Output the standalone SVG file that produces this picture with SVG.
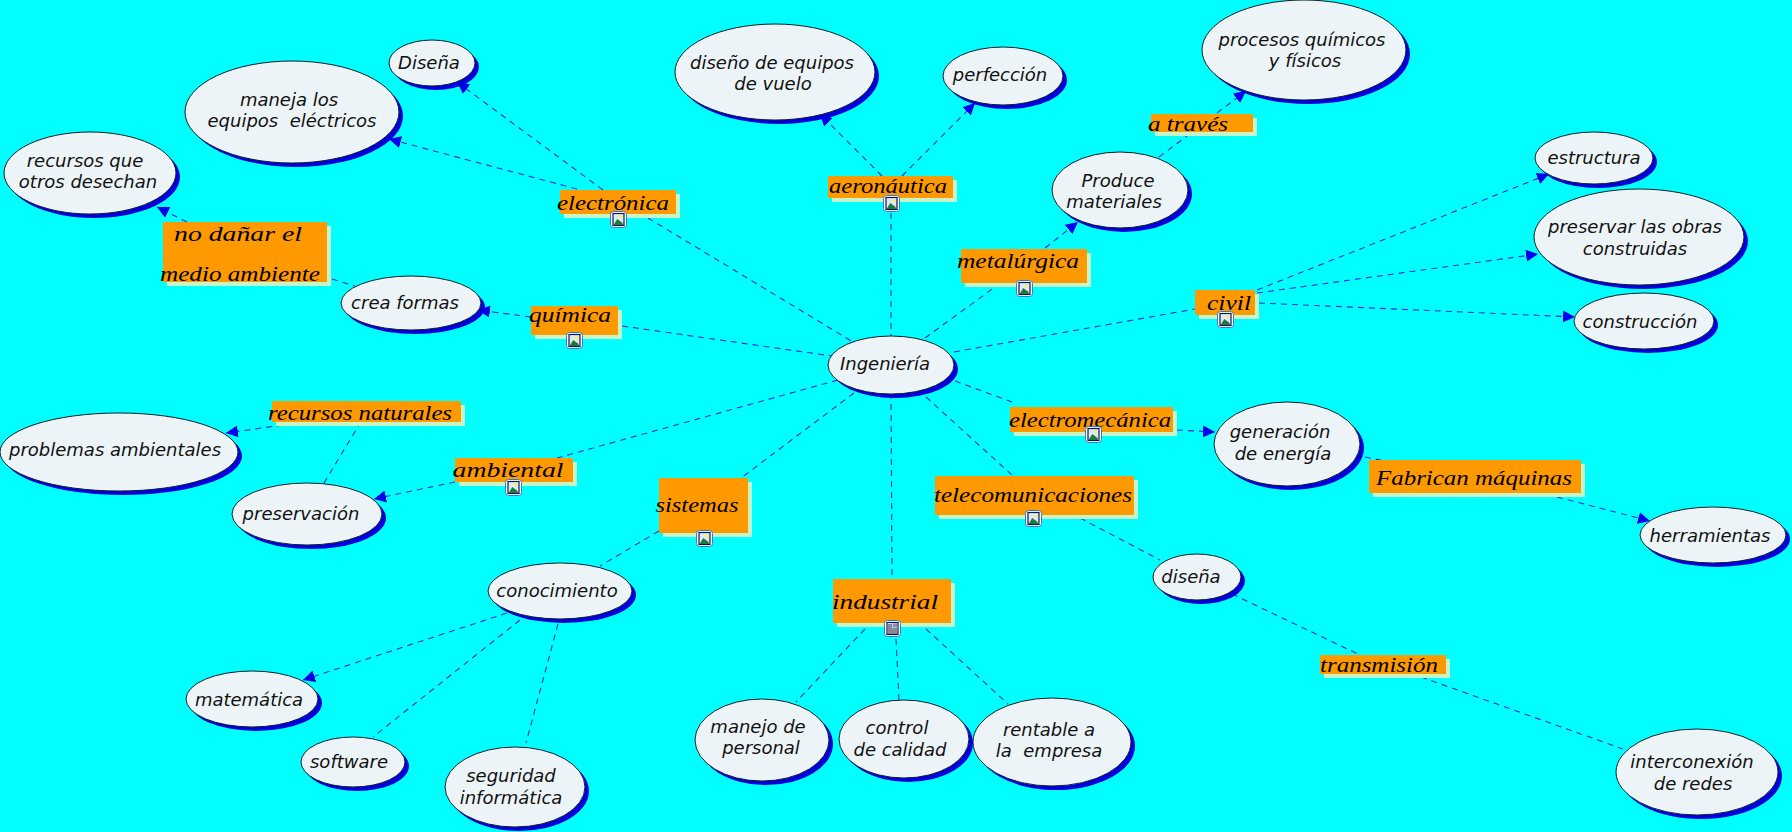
<svg xmlns="http://www.w3.org/2000/svg" width="1792" height="832" viewBox="0 0 1792 832">
<style>
.sh{fill:#0000dd}
.el{fill:#edf4f7;stroke:#10202a;stroke-width:1}
.t{font:italic 18px "DejaVu Sans",Verdana,sans-serif;fill:#111;text-anchor:middle;white-space:pre}
.s{font:italic 22px "Liberation Serif",serif;fill:#000;text-anchor:middle;white-space:pre}
.ls{fill:#c8f5c8}
.lb{fill:#ff9900}
.c{fill:none;stroke:#2a2ad8;stroke-width:1.1;stroke-dasharray:6 5}
.a{marker-end:url(#ah)}
</style>
<defs>
<marker id="ah" markerUnits="userSpaceOnUse" markerWidth="13" markerHeight="12" refX="12" refY="6" orient="auto"><path d="M0 0L12 6L0 12Z" fill="#0000ee"/></marker>
<symbol id="pic" viewBox="0 0 17 17" overflow="visible"><rect x=".5" y=".5" width="16" height="16" rx="3" fill="#fff" stroke="#3a78d0"/><rect x="3" y="2.5" width="11" height="12" fill="#dce9fa" stroke="#0a1a50" stroke-width="1.2"/><circle cx="10.5" cy="5.5" r="1.7" fill="#ffef60"/><path d="M3.6 13.9L7.2 8L12 11.5L13.4 13.9Z" fill="#1f7a3a"/></symbol>
<symbol id="doc" viewBox="0 0 17 17" overflow="visible"><rect x=".5" y=".5" width="16" height="16" rx="3" fill="#fff" stroke="#3a78d0"/><rect x="3" y="2.5" width="11" height="12" fill="#fafae8" stroke="#0a1a50" stroke-width="1.2"/><rect x="8.5" y="3.5" width="4.5" height="4" fill="#7f90c8"/><path d="M4 5H8M4 7H8M4 9H13M4 11H13M4 13H13" stroke="#0a1a50" fill="none"/></symbol>
</defs>
<rect width="1792" height="832" fill="#00ffff"/>
<g id="connectors">
<path class="c" d="M648 218L853 342"/>
<path class="c a" d="M603 190L457 82"/>
<path class="c a" d="M577 189L389 139"/>
<path class="c" d="M891 213V336"/>
<path class="c a" d="M882 176L820 114"/>
<path class="c a" d="M902 176L975 103"/>
<path class="c" d="M925 338L995 287"/>
<path class="c a" d="M1045 248L1078 222"/>
<path class="c" d="M1159 157L1187 136"/>
<path class="c a" d="M1217 113L1246 91"/>
<path class="c" d="M954 352L1195 309"/>
<path class="c a" d="M1257 290L1549 174"/>
<path class="c a" d="M1257 293L1538 254"/>
<path class="c a" d="M1259 303L1575 317"/>
<path class="c" d="M955 381L1012 402"/>
<path class="c a" d="M1177 430L1215 432"/>
<path class="c" d="M1365 457L1385 461"/>
<path class="c a" d="M1557 497L1650 521"/>
<path class="c" d="M926 397L1012 475"/>
<path class="c" d="M1080 518L1160 560"/>
<path class="c" d="M1232 594L1360 655"/>
<path class="c" d="M1421 677L1623 749"/>
<path class="c" d="M891 393L892 579"/>
<path class="c" d="M865 629L796 702"/>
<path class="c" d="M896 639L899 700"/>
<path class="c" d="M926 629L1008 704"/>
<path class="c" d="M854 393L741 478"/>
<path class="c" d="M659 531L600 566"/>
<path class="c a" d="M507 613L303 680"/>
<path class="c" d="M520 620L373 737"/>
<path class="c" d="M558 624L526 743"/>
<path class="c" d="M838 380L557 458"/>
<path class="c a" d="M455 482L374 499"/>
<path class="c" d="M324 483L359 425"/>
<path class="c a" d="M283 425L226 433"/>
<path class="c" d="M622 326L832 356"/>
<path class="c a" d="M531 317L478 310"/>
<path class="c" d="M332 279L355 286"/>
<path class="c a" d="M187 222L157 207"/>
</g>
<g id="n-ingenieria"><ellipse class="sh" cx="895" cy="369" rx="63" ry="29"/><ellipse class="el" cx="891" cy="365" rx="63" ry="29"/><text class="t" x="885" y="370">Ingeniería</text></g>
<g id="n-disena1"><ellipse class="sh" cx="436" cy="67" rx="43" ry="23"/><ellipse class="el" cx="432" cy="63" rx="43" ry="23"/><text class="t" x="429" y="69">Diseña</text></g>
<g id="n-maneja"><ellipse class="sh" cx="296" cy="116" rx="107" ry="51"/><ellipse class="el" cx="292" cy="112" rx="107" ry="51"/><text class="t" x="289" y="106">maneja los</text><text class="t" x="292" y="127">equipos  eléctricos</text></g>
<g id="n-recursos"><ellipse class="sh" cx="94" cy="177" rx="86" ry="41"/><ellipse class="el" cx="90" cy="173" rx="86" ry="41"/><text class="t" x="85" y="167">recursos que</text><text class="t" x="88" y="188">otros desechan</text></g>
<g id="n-crea"><ellipse class="sh" cx="415" cy="307" rx="70" ry="27"/><ellipse class="el" cx="411" cy="303" rx="70" ry="27"/><text class="t" x="405" y="309">crea formas</text></g>
<g id="n-diseno"><ellipse class="sh" cx="779" cy="76" rx="100" ry="48"/><ellipse class="el" cx="775" cy="72" rx="100" ry="48"/><text class="t" x="772" y="69">diseño de equipos</text><text class="t" x="773" y="90">de vuelo</text></g>
<g id="n-perfeccion"><ellipse class="sh" cx="1007" cy="80" rx="60" ry="29"/><ellipse class="el" cx="1003" cy="76" rx="60" ry="29"/><text class="t" x="1000" y="81">perfección</text></g>
<g id="n-procesos"><ellipse class="sh" cx="1308" cy="54" rx="102" ry="50"/><ellipse class="el" cx="1304" cy="50" rx="102" ry="50"/><text class="t" x="1302" y="46">procesos químicos</text><text class="t" x="1305" y="67">y físicos</text></g>
<g id="n-produce"><ellipse class="sh" cx="1124" cy="194" rx="68" ry="38"/><ellipse class="el" cx="1120" cy="190" rx="68" ry="38"/><text class="t" x="1118" y="187">Produce</text><text class="t" x="1114" y="208">materiales</text></g>
<g id="n-estructura"><ellipse class="sh" cx="1598" cy="162" rx="59" ry="26"/><ellipse class="el" cx="1594" cy="158" rx="59" ry="26"/><text class="t" x="1594" y="164">estructura</text></g>
<g id="n-preservar"><ellipse class="sh" cx="1643" cy="241" rx="105" ry="48"/><ellipse class="el" cx="1639" cy="237" rx="105" ry="48"/><text class="t" x="1635" y="233">preservar las obras</text><text class="t" x="1635" y="255">construidas</text></g>
<g id="n-construccion"><ellipse class="sh" cx="1648" cy="325" rx="70" ry="28"/><ellipse class="el" cx="1644" cy="321" rx="70" ry="28"/><text class="t" x="1640" y="328">construcción</text></g>
<g id="n-generacion"><ellipse class="sh" cx="1291" cy="448" rx="73" ry="42"/><ellipse class="el" cx="1287" cy="444" rx="73" ry="42"/><text class="t" x="1280" y="438">generación</text><text class="t" x="1283" y="460">de energía</text></g>
<g id="n-herramientas"><ellipse class="sh" cx="1717" cy="539" rx="73" ry="28"/><ellipse class="el" cx="1713" cy="535" rx="73" ry="28"/><text class="t" x="1710" y="542">herramientas</text></g>
<g id="n-disena2"><ellipse class="sh" cx="1201" cy="581" rx="44" ry="23"/><ellipse class="el" cx="1197" cy="577" rx="44" ry="23"/><text class="t" x="1191" y="583">diseña</text></g>
<g id="n-interconexion"><ellipse class="sh" cx="1701" cy="776" rx="81" ry="43"/><ellipse class="el" cx="1697" cy="772" rx="81" ry="43"/><text class="t" x="1692" y="768">interconexión</text><text class="t" x="1693" y="790">de redes</text></g>
<g id="n-rentable"><ellipse class="sh" cx="1056" cy="746" rx="79" ry="44"/><ellipse class="el" cx="1052" cy="742" rx="79" ry="44"/><text class="t" x="1049" y="736">rentable a</text><text class="t" x="1049" y="757">la  empresa</text></g>
<g id="n-control"><ellipse class="sh" cx="908" cy="743" rx="65" ry="39"/><ellipse class="el" cx="904" cy="739" rx="65" ry="39"/><text class="t" x="897" y="734">control</text><text class="t" x="900" y="756">de calidad</text></g>
<g id="n-manejo"><ellipse class="sh" cx="766" cy="744" rx="67" ry="41"/><ellipse class="el" cx="762" cy="740" rx="67" ry="41"/><text class="t" x="758" y="733">manejo de</text><text class="t" x="761" y="754">personal</text></g>
<g id="n-seguridad"><ellipse class="sh" cx="519" cy="791" rx="70" ry="40"/><ellipse class="el" cx="515" cy="787" rx="70" ry="40"/><text class="t" x="511" y="782">seguridad</text><text class="t" x="511" y="804">informática</text></g>
<g id="n-software"><ellipse class="sh" cx="357" cy="766" rx="52" ry="25"/><ellipse class="el" cx="353" cy="762" rx="52" ry="25"/><text class="t" x="349" y="768">software</text></g>
<g id="n-matematica"><ellipse class="sh" cx="256" cy="703" rx="66" ry="28"/><ellipse class="el" cx="252" cy="699" rx="66" ry="28"/><text class="t" x="249" y="706">matemática</text></g>
<g id="n-conocimiento"><ellipse class="sh" cx="564" cy="595" rx="72" ry="28"/><ellipse class="el" cx="560" cy="591" rx="72" ry="28"/><text class="t" x="557" y="597">conocimiento</text></g>
<g id="n-preservacion"><ellipse class="sh" cx="311" cy="518" rx="75" ry="31"/><ellipse class="el" cx="307" cy="514" rx="75" ry="31"/><text class="t" x="301" y="520">preservación</text></g>
<g id="n-problemas"><ellipse class="sh" cx="123" cy="456" rx="119" ry="39"/><ellipse class="el" cx="119" cy="452" rx="119" ry="39"/><text class="t" x="115" y="456">problemas ambientales</text></g>
<g id="l-electronica"><rect class="ls" x="564" y="194" width="116" height="24"/><rect class="lb" x="560" y="190" width="116" height="24"/><text class="s" x="613" y="210" textLength="112" lengthAdjust="spacingAndGlyphs">electrónica</text><use href="#pic" x="610" y="211" width="17" height="17"/></g>
<g id="l-aeronautica"><rect class="ls" x="832" y="180" width="125" height="22"/><rect class="lb" x="828" y="176" width="125" height="22"/><text class="s" x="888" y="193" textLength="118" lengthAdjust="spacingAndGlyphs">aeronáutica</text><use href="#pic" x="883" y="195" width="17" height="17"/></g>
<g id="l-quimica"><rect class="ls" x="535" y="310" width="87" height="29"/><rect class="lb" x="531" y="306" width="87" height="29"/><text class="s" x="570" y="322" textLength="82" lengthAdjust="spacingAndGlyphs">química</text><use href="#pic" x="566" y="332" width="17" height="17"/></g>
<g id="l-nodanar"><rect class="ls" x="167" y="226" width="164" height="60"/><rect class="lb" x="163" y="222" width="164" height="60"/><text class="s" x="238" y="241" textLength="128" lengthAdjust="spacingAndGlyphs">no dañar el</text><text class="s" x="240" y="281" textLength="160" lengthAdjust="spacingAndGlyphs">medio ambiente</text></g>
<g id="l-metalurgica"><rect class="ls" x="965" y="253" width="126" height="34"/><rect class="lb" x="961" y="249" width="126" height="34"/><text class="s" x="1018" y="268" textLength="122" lengthAdjust="spacingAndGlyphs">metalúrgica</text><use href="#pic" x="1016" y="280" width="17" height="17"/></g>
<g id="l-atraves"><rect class="ls" x="1155" y="118" width="102" height="18"/><rect class="lb" x="1151" y="114" width="102" height="18"/><text class="s" x="1188" y="131" textLength="80" lengthAdjust="spacingAndGlyphs">a través</text></g>
<g id="l-civil"><rect class="ls" x="1199" y="294" width="60" height="25"/><rect class="lb" x="1195" y="290" width="60" height="25"/><text class="s" x="1229" y="310" textLength="44" lengthAdjust="spacingAndGlyphs">civil</text><use href="#pic" x="1217" y="311" width="17" height="17"/></g>
<g id="l-electromecanica"><rect class="ls" x="1014" y="411" width="163" height="25"/><rect class="lb" x="1010" y="407" width="163" height="25"/><text class="s" x="1090" y="427" textLength="162" lengthAdjust="spacingAndGlyphs">electromecánica</text><use href="#pic" x="1085" y="426" width="17" height="17"/></g>
<g id="l-fabrican"><rect class="ls" x="1373" y="464" width="212" height="33"/><rect class="lb" x="1369" y="460" width="212" height="33"/><text class="s" x="1474" y="485" textLength="196" lengthAdjust="spacingAndGlyphs">Fabrican máquinas</text></g>
<g id="l-recursosn"><rect class="ls" x="276" y="405" width="189" height="21"/><rect class="lb" x="272" y="401" width="189" height="21"/><text class="s" x="360" y="420" textLength="184" lengthAdjust="spacingAndGlyphs">recursos naturales</text></g>
<g id="l-ambiental"><rect class="ls" x="459" y="462" width="118" height="24"/><rect class="lb" x="455" y="458" width="118" height="24"/><text class="s" x="508" y="477" textLength="111" lengthAdjust="spacingAndGlyphs">ambiental</text><use href="#pic" x="505" y="479" width="17" height="17"/></g>
<g id="l-sistemas"><rect class="ls" x="663" y="482" width="89" height="55"/><rect class="lb" x="659" y="478" width="89" height="55"/><text class="s" x="697" y="512" textLength="83" lengthAdjust="spacingAndGlyphs">sistemas</text><use href="#pic" x="696" y="530" width="17" height="17"/></g>
<g id="l-industrial"><rect class="ls" x="837" y="583" width="118" height="44"/><rect class="lb" x="833" y="579" width="118" height="44"/><text class="s" x="885" y="609" textLength="106" lengthAdjust="spacingAndGlyphs">industrial</text><use href="#doc" x="884" y="620" width="17" height="17"/></g>
<g id="l-telecom"><rect class="ls" x="939" y="480" width="199" height="39"/><rect class="lb" x="935" y="476" width="199" height="39"/><text class="s" x="1033" y="502" textLength="198" lengthAdjust="spacingAndGlyphs">telecomunicaciones</text><use href="#pic" x="1025" y="510" width="17" height="17"/></g>
<g id="l-transmision"><rect class="ls" x="1324" y="659" width="126" height="19"/><rect class="lb" x="1320" y="655" width="126" height="19"/><text class="s" x="1379" y="672" textLength="118" lengthAdjust="spacingAndGlyphs">transmisión</text></g>
</svg>
